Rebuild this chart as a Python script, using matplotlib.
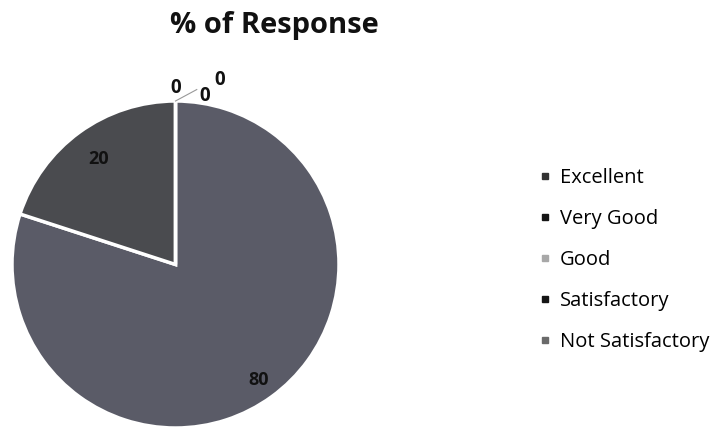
import numpy as np
import matplotlib
matplotlib.use("Agg")
import matplotlib.pyplot as plt
from matplotlib.lines import Line2D

categories = ["Excellent", "Very Good", "Good", "Satisfactory", "Not Satisfactory"]
values = [0, 0, 80, 20, 0]
slice_colors = ["#3a3a3e", "#202022", "#5a5b67", "#4a4b4f", "#56575e"]
legend_colors = ["#333333", "#151515", "#a8a8a8", "#151515", "#6a6a6a"]
title = "% of Response"

plt.rcParams['font.family'] = ['Open Sans', 'DejaVu Sans']
fig = plt.figure(figsize=(7.19, 4.29), dpi=100)
ax = fig.add_axes([12/719, 1/429, 327/719, 327/429])
wedges, _ = ax.pie(values, colors=slice_colors, startangle=90, counterclock=False,
                   wedgeprops=dict(edgecolor="white", linewidth=2.5))
ax.set_xlim(-1, 1); ax.set_ylim(-1, 1)
ax.set_aspect("equal")

# data labels
for w, v in zip(wedges, values):
    ang = np.deg2rad((w.theta1 + w.theta2) / 2)
    if v > 0:
        r = 0.87 if v > 50 else 0.80
        ax.text(r*np.cos(ang), r*np.sin(ang), f"{v}", ha="center", va="center",
                fontsize=13, fontweight="bold", color="#111111")

# zero labels near the top
zero_offsets = [(0.0, 1.08), (0.18, 1.03), (0.27, 1.13)]
for (x, y) in zero_offsets:
    ax.text(x, y, "0", ha="center", va="center", fontsize=13.5, fontweight="bold", color="#111111")
ax.plot([0.0, 0.13], [1.0, 1.07], color="#999999", lw=0.8, clip_on=False)

fig.text(0.382, 0.94, title, ha="center", va="center", fontsize=21, fontweight="bold", color="#111111")

handles = [Line2D([0], [0], marker="s", color="none", markerfacecolor=c, markeredgecolor=c,
                  markersize=5) for c in legend_colors]
fig.legend(handles, categories, loc="upper left", bbox_to_anchor=(540/719, 1 - 168/429),
           frameon=False, fontsize=14.5, labelspacing=1.04, handlelength=0.5,
           handletextpad=0.5, borderpad=0, borderaxespad=0)

fig.savefig("out.png", dpi=100, facecolor="white")
